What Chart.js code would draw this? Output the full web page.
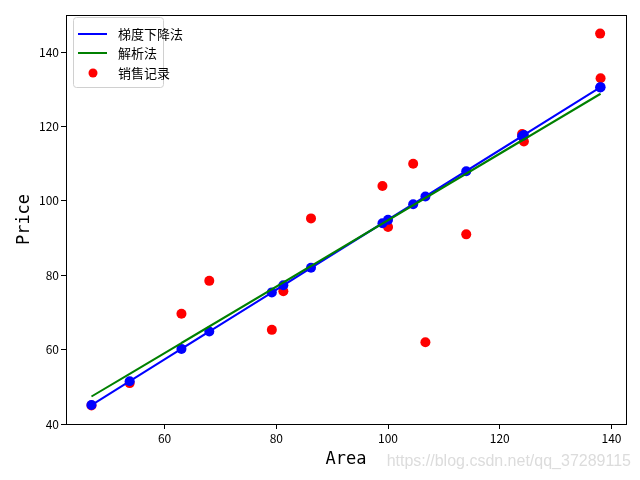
<!DOCTYPE html>
<html>
<head>
<meta charset="utf-8">
<script src="https://cdn.jsdelivr.net/npm/chart.js@4/dist/chart.umd.min.js"></script>
<style>
  html, body { margin: 0; padding: 0; background: #fff; }
  canvas { display: block; }
</style>
</head>
<body>
<canvas id="c" width="640" height="480"></canvas>
<script>
// house sales: area vs price
const area  = [137.97, 104.50, 100.00, 124.32, 79.20, 99.00, 124.00, 114.00, 106.69, 138.05, 53.75, 46.91, 68.00, 63.02, 81.26, 86.21];
const price = [145.00, 110.00, 93.00, 116.00, 65.32, 104.00, 118.00, 91.00, 62.00, 133.00, 51.00, 45.00, 78.50, 69.65, 75.69, 95.30];
// fitted values
const gradFit = [130.5, 99.1, 94.9, 117.7, 75.4, 94.0, 117.4, 108.0, 101.2, 130.6, 51.5, 45.1, 64.9, 60.2, 77.3, 82.0];
const solveFit = [128.8, 98.8, 94.8, 116.6, 76.2, 93.9, 116.3, 107.3, 100.8, 128.8, 53.5, 47.4, 66.2, 61.8, 78.1, 82.5];
const xTicks = [60, 80, 100, 120, 140];
const yTicks = [40, 60, 80, 100, 120, 140];
const legendLabels = ['梯度下降法', '解析法', '销售记录'];

function pts(ys) {
  return area.map(function(x, i) { return { x: x, y: ys[i] }; });
}

const tickFont = { family: '"Noto Sans CJK SC", "DejaVu Sans"', size: 12 };
const titleFont = { family: '"DejaVu Sans Mono"', size: 17, weight: 'normal' };

const frame = {
  id: 'frame',
  afterDatasetsDraw(chart) {
    const a = chart.chartArea, ctx = chart.ctx;
    ctx.save();
    ctx.strokeStyle = '#000';
    ctx.lineWidth = 1;
    ctx.strokeRect(a.left + 0.5, a.top + 0.5, a.right - a.left, a.bottom - a.top);
    ctx.restore();
  }
};

const legendBox = {
  id: 'legendBox',
  afterDraw(chart) {
    const ctx = chart.ctx;
    const x0 = 73, y0 = 17, w = 90, h = 70;
    ctx.save();
    ctx.fillStyle = 'rgba(255,255,255,0.8)';
    ctx.strokeStyle = '#d0d0d0';
    ctx.lineWidth = 1;
    ctx.beginPath();
    ctx.roundRect(x0 + 0.5, y0 + 0.5, w, h, 3);
    ctx.fill();
    ctx.stroke();

    ctx.lineWidth = 2;
    ctx.strokeStyle = '#0000ff';
    ctx.beginPath(); ctx.moveTo(78, 34); ctx.lineTo(107, 34); ctx.stroke();
    ctx.strokeStyle = '#008000';
    ctx.beginPath(); ctx.moveTo(78, 53); ctx.lineTo(107, 53); ctx.stroke();
    ctx.fillStyle = '#ff0000';
    ctx.beginPath(); ctx.arc(93, 73, 4.5, 0, Math.PI * 2); ctx.fill();

    ctx.fillStyle = '#000';
    ctx.font = '13px "Noto Sans CJK SC"';
    ctx.textBaseline = 'middle';
    ctx.fillText(legendLabels[0], 118, 34);
    ctx.fillText(legendLabels[1], 118, 53);
    ctx.fillText(legendLabels[2], 118, 73);

    // watermark
    ctx.fillStyle = '#dcdcdc';
    ctx.font = '16px "Liberation Sans"';
    ctx.textAlign = 'right';
    ctx.fillText('https://blog.csdn.net/qq_37289115', 631, 462);
    ctx.restore();
  }
};

new Chart(document.getElementById('c').getContext('2d'), {
  type: 'scatter',
  data: {
    datasets: [{
      label: legendLabels[2]
    , data: pts(price)
    , backgroundColor: '#ff0000'
    , borderWidth: 0
    , pointRadius: 5
    , order: 4
    }, {
      label: 'pred'
    , data: pts(gradFit)
    , backgroundColor: '#0000ff'
    , borderWidth: 0
    , pointRadius: 5
    , order: 3
    }, {
      label: legendLabels[0]
    , data: pts(gradFit)
    , showLine: true
    , borderColor: '#0000ff'
    , borderWidth: 2
    , pointRadius: 0
    , order: 2
    }, {
      label: legendLabels[1]
    , data: pts(solveFit)
    , showLine: true
    , borderColor: '#008000'
    , borderWidth: 2
    , pointRadius: 0
    , order: 1
    }]
  },
  options: {
    responsive: false,
    animation: false,
    layout: { padding: { top: 15, right: 14, left: 10, bottom: 8 } },
    plugins: { legend: { display: false }, tooltip: { enabled: false } },
    scales: {
      x: {
        min: 42.35, max: 142.6,
        afterBuildTicks(s) { s.ticks = xTicks.map(function(v) { return { value: v }; }); },
        afterFit(s) { s.height = 48; },
        grid: { drawOnChartArea: false, tickLength: 5, color: '#000' },
        border: { display: false },
        ticks: { color: '#000', font: tickFont, padding: 2, maxRotation: 0 },
        title: { display: true, text: 'Area', color: '#000', font: titleFont, padding: { top: 2, bottom: 2 } }
      },
      y: {
        min: 40, max: 150,
        afterBuildTicks(s) { s.ticks = yTicks.map(function(v) { return { value: v }; }); },
        afterFit(s) { s.width = 56; },
        grid: { drawOnChartArea: false, tickLength: 5, color: '#000' },
        border: { display: false },
        ticks: { color: '#000', font: tickFont, padding: 2 },
        title: { display: true, text: 'Price', color: '#000', font: titleFont, padding: { bottom: 4 } }
      }
    }
  },
  plugins: [frame, legendBox]
});
</script>
</body>
</html>
